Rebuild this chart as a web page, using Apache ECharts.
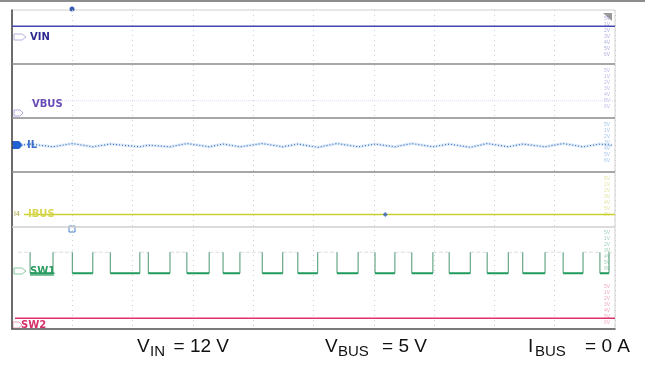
<!DOCTYPE html>
<html>
<head>
<meta charset="utf-8">
<script src="https://cdn.jsdelivr.net/npm/echarts@6/dist/echarts.min.js"></script>
<style>
html,body{margin:0;padding:0;background:#fff;}
#c{width:645px;height:369px;}
</style>
</head>
<body>
<div id="c"></div>
<script>
// ---- data (x in divisions 0..10, y in panel units) ----
const timeSpan = [0, 10];
const vinLevel = 5.70;
const vbusLevel = 4.32;
const ibusLevel = 2.22;
const sw2Level = 0.30;
const sw1HighLevel = 1.52;
const sw1LowLevel = 1.13;
const sw1LowStart = [0.30, 1.00, 1.63, 2.26, 2.90, 3.50, 4.15, 4.74, 5.39, 6.02, 6.63, 7.25, 7.88, 8.47, 9.14, 9.75];
const sw1LowEnd   = [0.68, 1.34, 2.12, 2.62, 3.27, 3.78, 4.49, 5.07, 5.74, 6.35, 6.98, 7.60, 8.23, 8.84, 9.47, 9.90];
const ilTime  = [0.15, 0.30, 0.68, 1.00, 1.34, 1.63, 2.12, 2.26, 2.62, 2.90, 3.27, 3.50, 3.78, 4.15, 4.49, 4.74, 5.07, 5.39, 5.74, 6.02, 6.35, 6.63, 6.98, 7.25, 7.60, 7.88, 8.23, 8.47, 8.84, 9.14, 9.47, 9.75, 9.95];
const ilValue = [3.50, 3.52, 3.47, 3.53, 3.47, 3.52, 3.47, 3.50, 3.47, 3.53, 3.47, 3.52, 3.47, 3.53, 3.47, 3.52, 3.46, 3.53, 3.47, 3.52, 3.47, 3.53, 3.47, 3.52, 3.46, 3.53, 3.47, 3.52, 3.47, 3.53, 3.47, 3.52, 3.50];
const separatorsDark = [5, 4, 3];
const separatorsLight = [2];
const channelLabels = ['VIN', 'VBUS', 'IL', 'IBUS', 'SW1', 'SW2'];
const captionMain = ['V', 'V', 'I'];
const captionSub = ['IN', 'BUS', 'BUS'];
const captionRest = ['= 12 V', '= 5 V', '= 0 A'];
const ibusMarkerTime = 6.19;

// ---- build series data ----
const vinData = timeSpan.map(t => [t, vinLevel]);
const vbusData = [[0.3, vbusLevel], [timeSpan[1], vbusLevel]];
const ibusData = [[0.2, ibusLevel], [timeSpan[1], ibusLevel]];
const sw2Data = [[0.05, sw2Level], [timeSpan[1], sw2Level]];
const ilData = ilTime.map((t, i) => [t, ilValue[i]]);

const sw1Lows = [], sw1Edges = [], sw1Highs = [];
sw1Highs.push([0.1, sw1HighLevel], [sw1LowStart[0], sw1HighLevel], null);
sw1LowStart.forEach((s, i) => {
  const e = sw1LowEnd[i];
  sw1Lows.push([s, sw1LowLevel], [e, sw1LowLevel], null);
  sw1Edges.push([s, sw1HighLevel], [s, sw1LowLevel], null);
  sw1Edges.push([e, sw1LowLevel], [e, sw1HighLevel], null);
  const next = i + 1 < sw1LowStart.length ? sw1LowStart[i + 1] : 9.95;
  sw1Highs.push([e, sw1HighLevel], [next, sw1HighLevel], null);
});

const chart = echarts.init(document.getElementById('c'), null, {renderer: 'canvas'});

function line(name, data, color, width, type, z) {
  return {
    name, type: 'line', data, symbol: 'none', silent: true, animation: false,
    connectNulls: false, z: z || 2,
    lineStyle: {color, width, type: type || 'solid'}
  };
}

const series = [
  Object.assign(line('VIN', vinData, '#4646b4', 1.5), {
    markLine: {
      silent: true, symbol: 'none', label: {show: false}, animation: false,
      data: separatorsDark.map(v => ({yAxis: v, lineStyle: {color: '#8a8a8a', width: 1.5, type: 'solid'}}))
        .concat(separatorsLight.map(v => ({yAxis: v, lineStyle: {color: '#cfcfcf', width: 1.5, type: 'solid'}})))
    }
  }),
  line('VBUS', vbusData, '#ddd6f0', 1, 'dotted'),
  line('IL halo', ilData, 'rgba(185,212,240,0.45)', 3),
  line('IL', ilData, '#3a6cc0', 1.2, [1, 2], 3),
  line('IBUS', ibusData, '#c9d12f', 1.5),
  line('SW1 high', sw1Highs, '#d8dfdb', 1, [4, 2]),
  line('SW1 edges', sw1Edges, '#4a9670', 1),
  line('SW1', sw1Lows, '#1f9a5c', 2, 'solid', 3),
  line('SW2', sw2Data, '#e0306a', 1.5),
  {
    name: 'IBUS cursor', type: 'scatter', data: [[ibusMarkerTime, ibusLevel]],
    symbol: 'diamond', symbolSize: 5, itemStyle: {color: '#2a5fc0'}, silent: true, animation: false, z: 4
  }
];

// ---- decorations ----
const font = '"Liberation Sans", Arial, sans-serif';
const graphic = [
  {type: 'rect', shape: {x: 0, y: 0, width: 645, height: 2}, style: {fill: '#8c8c8c'}, silent: true},
  {type: 'circle', shape: {cx: 72, cy: 9, r: 2.5}, style: {fill: '#3a5fb0'}, silent: true},
  {type: 'rect', shape: {x: 69, y: 226, width: 6, height: 6}, style: {fill: 'none', stroke: '#4a7fd0', lineWidth: 1}, silent: true},
  {type: 'polygon', shape: {points: [[603, 13], [612, 13], [612, 21]]}, style: {fill: '#9a9a9a'}, silent: true},
  {type: 'polygon', shape: {points: [[14, 34], [22, 34], [26, 37], [22, 40], [14, 40]]}, style: {fill: 'none', stroke: '#b8b0e0', lineWidth: 1}, silent: true},
  {type: 'polygon', shape: {points: [[14, 110], [20, 110], [23, 113], [20, 116], [14, 116]]}, style: {fill: 'none', stroke: '#b8a8e0', lineWidth: 1}, silent: true},
  {type: 'polygon', shape: {points: [[12, 141], [19, 141], [23, 145], [19, 149], [12, 149]]}, style: {fill: '#2060d0'}, silent: true},
  {type: 'text', style: {text: 'I4', x: 14, y: 214, font: '7px ' + font, fill: '#a8a040', verticalAlign: 'middle'}, silent: true},
  {type: 'polygon', shape: {points: [[14, 268], [22, 268], [26, 271], [22, 274], [14, 274]]}, style: {fill: 'none', stroke: '#8cc8a4', lineWidth: 1}, silent: true},
  {type: 'polygon', shape: {points: [[13, 322], [19, 322], [22, 325], [19, 328], [13, 328]]}, style: {fill: 'none', stroke: '#e8a0b8', lineWidth: 1}, silent: true}
];

const labelDefs = [
  {x: 30, y: 37, color: '#2a2a8e'},
  {x: 32, y: 104, color: '#6a4cb6'},
  {x: 27, y: 145, color: '#3a70c8'},
  {x: 28, y: 214, color: '#d8d650'},
  {x: 30, y: 271, color: '#2a9a5e'},
  {x: 21, y: 325, color: '#d83068'}
];
channelLabels.forEach((t, i) => {
  const d = labelDefs[i];
  graphic.push({type: 'text', z: 10, silent: true,
    style: {text: t, x: d.x, y: d.y, font: 'bold 10px "DejaVu Sans", sans-serif', fill: d.color, verticalAlign: 'middle', textVerticalAlign: 'middle'}});
});
graphic.push({type: 'line', shape: {x1: 30, y1: 275, x2: 54, y2: 275}, style: {stroke: '#2a9a5e', lineWidth: 1.2}, silent: true});

// tiny right-edge scale text
const sideColors = ['#5a5ac0', '#8c70d0', '#4a8ad8', '#c8c840', '#3aa070', '#e05080'];
const sideTops = [16, 68, 122, 176, 230, 284];
sideColors.forEach((c, i) => {
  graphic.push({type: 'text', silent: true,
    style: {text: '5V\n1V\n2V\n3V\n4V\n5V\n6V', x: 604, y: sideTops[i], font: '5px ' + font, lineHeight: 6, fill: c, opacity: 0.5}});
});

// captions
const capPos = [
  {x: 137, subX: 150, endX: 229},
  {x: 325, subX: 338, endX: 427},
  {x: 528, subX: 535, endX: 630}
];
captionMain.forEach((m, i) => {
  const p = capPos[i];
  graphic.push({type: 'text', silent: true, style: {text: m, x: p.x, y: 346.5, font: '19px ' + font, fill: '#111', verticalAlign: 'middle', textVerticalAlign: 'middle'}});
  graphic.push({type: 'text', silent: true, style: {text: captionSub[i], x: p.subX, y: 352, font: '15px ' + font, fill: '#111', verticalAlign: 'middle', textVerticalAlign: 'middle'}});
  graphic.push({type: 'text', silent: true, style: {text: captionRest[i], x: p.endX, y: 346.5, font: '19px ' + font, fill: '#111', align: 'right', textAlign: 'right', verticalAlign: 'middle', textVerticalAlign: 'middle'}});
});

chart.setOption({
  animation: false,
  backgroundColor: '#fff',
  grid: {left: 12, right: 30, top: 10, bottom: 40, show: true, borderColor: '#d0d0d0', borderWidth: 1},
  xAxis: {
    type: 'value', min: 0, max: 10, interval: 1,
    axisLabel: {show: false}, axisTick: {show: false},
    axisLine: {show: true, lineStyle: {color: '#555', width: 1.5}},
    splitLine: {show: true, lineStyle: {color: '#cfcfcf', type: [1, 4], width: 1}}
  },
  yAxis: {
    type: 'value', min: 0.1, max: 6,
    axisLabel: {show: false}, axisTick: {show: false},
    axisLine: {show: true, lineStyle: {color: '#444', width: 1.5}},
    splitLine: {show: false}
  },
  series,
  graphic
});
</script>
</body>
</html>
